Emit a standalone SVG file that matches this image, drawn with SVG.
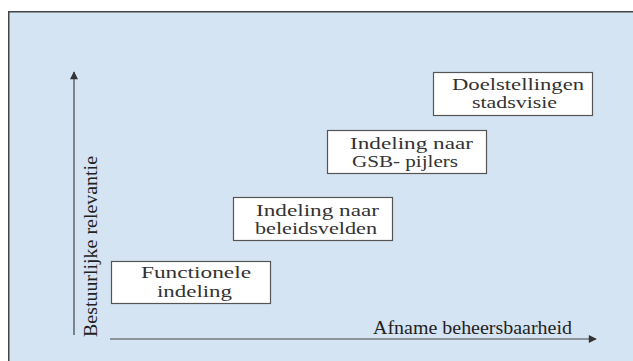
<svg xmlns="http://www.w3.org/2000/svg" width="633" height="361" viewBox="0 0 633 361">
  <style>
    .bg { fill: #d5e4f3; stroke: #444; stroke-width: 1.5; }
    .box { fill: #ffffff; stroke: #555; stroke-width: 1.2; }
    .lbl { font-family: "Liberation Serif", "Times New Roman", serif; font-size: 16px; fill: #333; text-anchor: middle; }
    .ax { font-family: "Liberation Serif", "Times New Roman", serif; font-size: 19px; fill: #222; }
    .axis { stroke: #444; stroke-width: 1.2; fill: none; }
  </style>
  <defs>
    <marker id="arr" viewBox="0 0 10 10" refX="9" refY="5" markerWidth="10" markerHeight="8" markerUnits="userSpaceOnUse" orient="auto">
      <path d="M0,0 L10,5 L0,10 Z" fill="#333"/>
    </marker>
  </defs>
  <rect class="bg" x="8.75" y="11.75" width="640" height="360"/>

  <g id="connectors">
    <line class="axis" x1="74" y1="335" x2="74" y2="72" marker-end="url(#arr)"/>
    <line class="axis" x1="110" y1="339" x2="596" y2="339" marker-end="url(#arr)"/>
  </g>

  <g id="axis-y-label">
    <text class="ax" transform="translate(97,337) rotate(-90)" x="0" y="0" textLength="181" lengthAdjust="spacingAndGlyphs">Bestuurlijke relevantie</text>
  </g>
  <g id="axis-x-label">
    <text class="ax" x="373" y="334" textLength="199" lengthAdjust="spacingAndGlyphs">Afname beheersbaarheid</text>
  </g>

  <g id="functionele-indeling">
    <rect class="box" x="111.5" y="261.5" width="159" height="42"/>
    <text class="lbl" x="196" y="278" textLength="110" lengthAdjust="spacingAndGlyphs">Functionele</text>
    <text class="lbl" x="194.5" y="296.5" textLength="75" lengthAdjust="spacingAndGlyphs">indeling</text>
  </g>

  <g id="indeling-beleidsvelden">
    <rect class="box" x="233.5" y="197.5" width="159" height="43"/>
    <text class="lbl" x="317.5" y="216" textLength="123" lengthAdjust="spacingAndGlyphs">Indeling naar</text>
    <text class="lbl" x="316" y="234" textLength="122" lengthAdjust="spacingAndGlyphs">beleidsvelden</text>
  </g>

  <g id="indeling-gsb">
    <rect class="box" x="327.5" y="130.5" width="159" height="43"/>
    <text class="lbl" x="411.5" y="148.5" textLength="123" lengthAdjust="spacingAndGlyphs">Indeling naar</text>
    <text class="lbl" x="405" y="166.5" textLength="106" lengthAdjust="spacingAndGlyphs">GSB- pijlers</text>
  </g>

  <g id="doelstellingen-stadsvisie">
    <rect class="box" x="433.5" y="72.5" width="159" height="43"/>
    <text class="lbl" x="518" y="89.5" textLength="132" lengthAdjust="spacingAndGlyphs">Doelstellingen</text>
    <text class="lbl" x="514.5" y="107.5" textLength="85" lengthAdjust="spacingAndGlyphs">stadsvisie</text>
  </g>
</svg>
